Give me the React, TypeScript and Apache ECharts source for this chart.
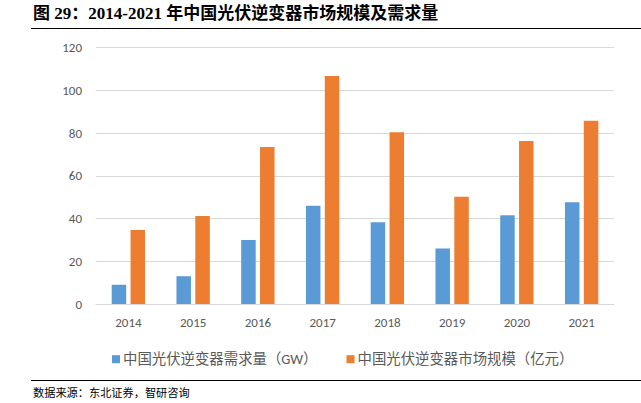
import React, { useEffect, useRef } from "react";
import * as echarts from "echarts";

const categories = ["2014", "2015", "2016", "2017", "2018", "2019", "2020", "2021"];
const demandGW = [9, 13, 30, 46, 38.3, 26, 41.5, 47.6];
const marketSize = [34.7, 41.2, 73.5, 106.8, 80.4, 50.2, 76.3, 85.8];
const seriesNames = ["中国光伏逆变器需求量（GW）", "中国光伏逆变器市场规模（亿元）"];
const titleText = "图 29：2014-2021 年中国光伏逆变器市场规模及需求量";
const sourceText = "数据来源：东北证券，智研咨询";

export default function App() {
  const ref = useRef<HTMLDivElement>(null);
  useEffect(() => {
    if (!ref.current) return;
    const chart = echarts.init(ref.current, null, { renderer: "svg" });
    const sans = "Calibri, 'Open Sans', 'Noto Sans CJK SC', sans-serif";
    chart.setOption({
      animation: false,
      backgroundColor: "#ffffff",
      grid: { left: 96, right: 27, top: 47.7, bottom: 99, containLabel: false },
      legend: {
        data: seriesNames,
        left: 107,
        top: 347,
        itemWidth: 8,
        itemHeight: 8,
        itemGap: 29,
        icon: "rect",
        textStyle: { color: "#595959", fontSize: 14.4, fontFamily: sans, padding: [0, 0, 0, -2] },
      },
      xAxis: {
        type: "category",
        data: categories,
        axisLine: { show: true, lineStyle: { color: "#d9d9d9", width: 1 } },
        axisTick: { show: false },
        axisLabel: { color: "#595959", fontSize: 13, margin: 12, fontFamily: sans },
      },
      yAxis: {
        type: "value",
        min: 0,
        max: 120,
        interval: 20,
        axisLine: { show: false },
        axisTick: { show: false },
        splitLine: { lineStyle: { color: "#d9d9d9", width: 1 } },
        axisLabel: { color: "#595959", fontSize: 13, margin: 14, fontFamily: sans },
      },
      series: [
        {
          name: seriesNames[0],
          type: "bar",
          data: demandGW,
          barWidth: 14.5,
          barGap: "30%",
          itemStyle: { color: "#5b9bd5" },
        },
        {
          name: seriesNames[1],
          type: "bar",
          data: marketSize,
          barWidth: 14.5,
          barGap: "30%",
          itemStyle: { color: "#ed7d31" },
        },
      ],
      graphic: [
        {
          type: "text",
          left: 33,
          top: 5,
          style: {
            text: titleText,
            fill: "#000000",
            font: "bold 17px 'Liberation Serif', 'Noto Sans CJK SC', serif",
          },
        },
        {
          type: "line",
          shape: { x1: 31, y1: 28.5, x2: 641, y2: 28.5 },
          style: { stroke: "#000000", lineWidth: 1.2 },
        },
        {
          type: "line",
          shape: { x1: 31, y1: 380.5, x2: 641, y2: 380.5 },
          style: { stroke: "#000000", lineWidth: 1.2 },
        },
        {
          type: "text",
          left: 33,
          top: 386,
          style: {
            text: sourceText,
            fill: "#000000",
            font: "11.2px 'Noto Sans CJK SC', serif",
          },
        },
      ],
    });
    return () => chart.dispose();
  }, []);
  return (
    <div
      ref={ref}
      style={{ position: "absolute", left: 0, top: 0, width: 641, height: 403 }}
    />
  );
}
